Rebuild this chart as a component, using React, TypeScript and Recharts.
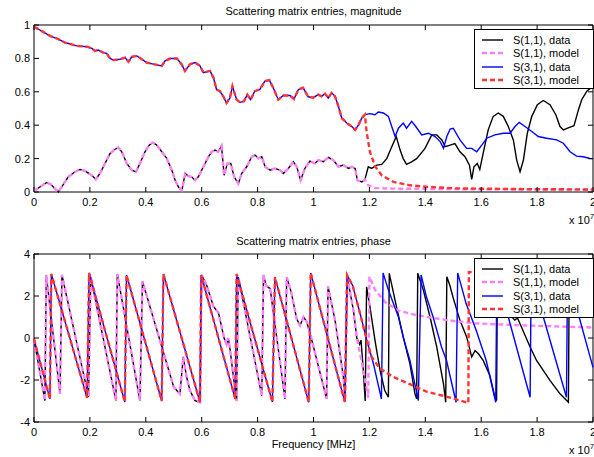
import React from 'react';
import { LineChart, Line, XAxis, YAxis, ReferenceArea, Legend } from 'recharts';

const FONT = '"Liberation Sans", Arial, Helvetica, sans-serif';

// tick values
const freqTicks = [0, 0.2, 0.4, 0.6, 0.8, 1, 1.2, 1.4, 1.6, 1.8, 2];
const magTicks = [0, 0.2, 0.4, 0.6, 0.8, 1];
const phaseTicks = [-4, -2, 0, 2, 4];

// magnitude, S(3,1): data and model coincide up to ~1.18
const magS31Shared = [
  [0, 0.99], [0.021, 0.97], [0.057, 0.935], [0.087, 0.915], [0.111, 0.895], [0.153, 0.875],
  [0.189, 0.87], [0.207, 0.86], [0.218, 0.845], [0.23, 0.85], [0.248, 0.835], [0.26, 0.83],
  [0.272, 0.8], [0.284, 0.79], [0.308, 0.795], [0.326, 0.805], [0.338, 0.78], [0.35, 0.81],
  [0.368, 0.815], [0.386, 0.795], [0.403, 0.775], [0.427, 0.766], [0.457, 0.755], [0.469, 0.785],
  [0.487, 0.799], [0.511, 0.8], [0.528, 0.765], [0.54, 0.725], [0.558, 0.765], [0.576, 0.775],
  [0.594, 0.755], [0.606, 0.715], [0.63, 0.725], [0.642, 0.685], [0.653, 0.614], [0.665, 0.604],
  [0.677, 0.573], [0.689, 0.533], [0.701, 0.563], [0.71, 0.633], [0.725, 0.553], [0.737, 0.537],
  [0.751, 0.543], [0.763, 0.583], [0.775, 0.553], [0.79, 0.604], [0.808, 0.614], [0.826, 0.664],
  [0.842, 0.67], [0.856, 0.624], [0.874, 0.553], [0.892, 0.578], [0.916, 0.578], [0.93, 0.557],
  [0.946, 0.614], [0.963, 0.624], [0.981, 0.57], [0.999, 0.565], [1.017, 0.583], [1.029, 0.573],
  [1.041, 0.589], [1.053, 0.563], [1.065, 0.594], [1.077, 0.573], [1.089, 0.513], [1.101, 0.443],
  [1.119, 0.413], [1.137, 0.392], [1.149, 0.372], [1.161, 0.402], [1.173, 0.443], [1.184, 0.463],
];
const magS31DataTail = [
  [1.202, 0.469], [1.22, 0.463], [1.232, 0.479], [1.25, 0.473], [1.268, 0.453], [1.28, 0.392],
  [1.292, 0.332], [1.304, 0.382], [1.321, 0.413], [1.333, 0.382], [1.351, 0.423], [1.366, 0.392],
  [1.387, 0.342], [1.411, 0.352], [1.435, 0.332], [1.453, 0.302], [1.465, 0.261], [1.477, 0.332],
  [1.489, 0.377], [1.5, 0.382], [1.524, 0.312], [1.548, 0.261], [1.566, 0.261], [1.584, 0.241],
  [1.602, 0.281], [1.62, 0.322], [1.649, 0.342], [1.679, 0.352], [1.703, 0.352], [1.721, 0.392],
  [1.736, 0.417], [1.757, 0.392], [1.781, 0.362], [1.804, 0.332], [1.834, 0.322], [1.87, 0.312],
  [1.894, 0.292], [1.918, 0.241], [1.941, 0.215], [1.965, 0.211], [1.989, 0.201], [2.0, 0.2],
];
const magS31ModelTail = [
  [1.19, 0.36], [1.202, 0.24], [1.22, 0.155], [1.244, 0.1], [1.286, 0.06], [1.345, 0.04],
  [1.416, 0.03], [1.506, 0.022], [1.7, 0.018], [2.0, 0.015],
];

// magnitude, S(1,1)
const magS11Shared = [
  [0, 0.006], [0.021, 0.03], [0.045, 0.056], [0.06, 0.046], [0.075, 0.02], [0.087, 0.0],
  [0.105, 0.046], [0.123, 0.091], [0.147, 0.121], [0.165, 0.135], [0.182, 0.127], [0.206, 0.101],
  [0.221, 0.075], [0.236, 0.111], [0.254, 0.171], [0.272, 0.231], [0.29, 0.256], [0.302, 0.266],
  [0.314, 0.241], [0.332, 0.171], [0.35, 0.131], [0.365, 0.121], [0.379, 0.171], [0.397, 0.241],
  [0.413, 0.282], [0.425, 0.296], [0.439, 0.282], [0.457, 0.241], [0.475, 0.201], [0.493, 0.131],
  [0.505, 0.07], [0.517, 0.03], [0.529, 0.01], [0.541, 0.111], [0.552, 0.095], [0.564, 0.091],
  [0.576, 0.07], [0.588, 0.091], [0.606, 0.151], [0.624, 0.211], [0.636, 0.241], [0.648, 0.251],
  [0.659, 0.241], [0.671, 0.276], [0.68, 0.1], [0.692, 0.171], [0.704, 0.171], [0.716, 0.091],
  [0.731, 0.05], [0.743, 0.111], [0.761, 0.151], [0.779, 0.211], [0.791, 0.221], [0.803, 0.201],
  [0.815, 0.211], [0.827, 0.151], [0.845, 0.131], [0.862, 0.141], [0.88, 0.131], [0.892, 0.111],
  [0.91, 0.141], [0.928, 0.181], [0.94, 0.151], [0.954, 0.07], [0.969, 0.141], [0.987, 0.185],
  [1.005, 0.171], [1.017, 0.191], [1.035, 0.181], [1.053, 0.207], [1.071, 0.191], [1.089, 0.151],
  [1.107, 0.161], [1.125, 0.141], [1.137, 0.151], [1.149, 0.141], [1.157, 0.07], [1.173, 0.06],
  [1.184, 0.075],
];
const magS11DataTail = [
  [1.196, 0.151], [1.208, 0.141], [1.226, 0.161], [1.244, 0.165], [1.262, 0.2], [1.28, 0.271],
  [1.296, 0.332], [1.31, 0.251], [1.321, 0.2], [1.333, 0.166], [1.351, 0.181], [1.369, 0.2],
  [1.399, 0.261], [1.423, 0.342], [1.441, 0.342], [1.459, 0.312], [1.471, 0.271], [1.489, 0.281],
  [1.506, 0.29], [1.524, 0.241], [1.542, 0.211], [1.558, 0.161], [1.566, 0.075], [1.574, 0.151],
  [1.586, 0.171], [1.595, 0.135], [1.607, 0.231], [1.625, 0.372], [1.643, 0.453], [1.661, 0.473],
  [1.679, 0.453], [1.697, 0.392], [1.715, 0.312], [1.727, 0.191], [1.739, 0.121], [1.751, 0.191],
  [1.765, 0.352], [1.781, 0.453], [1.801, 0.523], [1.822, 0.548], [1.846, 0.523], [1.867, 0.463],
  [1.882, 0.392], [1.894, 0.372], [1.918, 0.388], [1.932, 0.397], [1.948, 0.493], [1.96, 0.554],
  [1.978, 0.604], [2.0, 0.634],
];
const magS11ModelTail = [
  [1.196, 0.04], [1.22, 0.024], [1.286, 0.02], [1.6, 0.016], [2.0, 0.014],
];

// phase, S(3,1)
const phS31Shared = [
  [0, -0.05], [0.057, -2.9], [0.062, 3.05], [0.19, -2.85], [0.197, 3.1], [0.325, -3.05],
  [0.331, 3.0], [0.457, -3.0], [0.463, 3.05], [0.594, -3.06], [0.598, 3.0], [0.72, -2.9],
  [0.725, 3.05], [0.853, -3.05], [0.862, 2.9], [0.983, -3.06], [0.99, 3.1], [1.112, -3.05],
  [1.12, 3.0], [1.14, 2.5], [1.166, 1.2], [1.19, -0.07],
];
const phS31DataTail = [
  [1.214, -1.2], [1.243, -2.9], [1.249, 3.1], [1.268, 2.28], [1.286, 1.64], [1.304, 1.0],
  [1.321, 0.05], [1.345, -1.07], [1.375, -2.98], [1.385, 3.0], [1.404, 1.96], [1.428, 1.0],
  [1.458, -0.43], [1.476, -1.07], [1.51, -3.06], [1.516, 3.1], [1.546, 1.64], [1.582, 0.37],
  [1.618, -1.07], [1.652, -3.06], [1.656, 3.0], [1.775, -2.82], [1.779, 3.0], [1.905, -2.82],
  [1.909, 3.0], [2.0, -1.4],
];
const phS31ModelTail = [
  [1.208, -0.9], [1.237, -1.45], [1.285, -1.85], [1.345, -2.2], [1.404, -2.55], [1.464, -2.75],
  [1.506, -2.9], [1.554, -3.1], [1.556, 3.14], [1.6, 3.12], [1.8, 3.05], [2.0, 2.95],
];

// phase, S(1,1)
const phS11Shared = [
  [0, -0.05], [0.039, -2.98], [0.044, 3.0], [0.093, -2.66], [0.1, 3.0], [0.195, -2.8],
  [0.203, 2.9], [0.293, -2.98], [0.298, 3.05], [0.379, -2.98], [0.388, 2.7], [0.5, -2.34],
  [0.511, -2.5], [0.522, -2.66], [0.534, -0.9], [0.546, -1.86], [0.558, -2.5], [0.576, -2.98],
  [0.594, -3.06], [0.6, 3.0], [0.618, 2.5], [0.642, 1.5], [0.66, 1.2], [0.68, 0.0],
  [0.689, -0.3], [0.695, 0.0], [0.702, -0.6], [0.713, -1.8], [0.725, -3.0], [0.731, 2.9],
  [0.815, -2.74], [0.821, 3.0], [0.83, 2.5], [0.845, 2.35], [0.898, -2.9], [0.904, 2.9],
  [0.92, 2.2], [0.94, 0.9], [0.952, 0.6], [0.964, 1.0], [0.975, 0.8], [0.99, 0.1],
  [1.047, -2.9], [1.052, 2.45], [1.077, 0.85], [1.107, -1.87], [1.113, -2.98], [1.121, 2.9],
  [1.143, 1.3], [1.155, 0.0],
];
const phS11DataTail = [
  [1.165, -0.3], [1.17, -0.1], [1.178, -1.5], [1.185, -3.0], [1.19, 2.44], [1.202, 1.48],
  [1.22, -0.11], [1.238, -1.54], [1.255, -2.5], [1.268, -2.82], [1.271, 3.08], [1.297, 1.48],
  [1.321, 0.05], [1.345, -1.23], [1.363, -2.66], [1.369, -2.9], [1.373, 3.08], [1.393, 2.28],
  [1.417, 1.0], [1.441, -0.43], [1.465, -2.18], [1.473, -3.06], [1.477, 2.92], [1.488, 2.5],
  [1.5, 1.9], [1.524, 0.84], [1.548, 0.05], [1.566, -0.9], [1.578, -0.6], [1.59, -0.75],
  [1.607, -1.07], [1.631, -1.78], [1.649, -2.82], [1.655, -2.98], [1.658, 3.0], [1.71, 1.0],
  [1.72, 0.85], [1.73, 0.95], [1.775, -0.43], [1.798, -1.07], [1.846, -2.02], [1.882, -2.66],
  [1.912, -3.06], [1.915, 3.0], [2.0, 1.4],
];
const phS11ModelTail = [
  [1.175, -1.3], [1.196, -2.85], [1.2, 2.92], [1.22, 2.3], [1.257, 1.7], [1.304, 1.3],
  [1.364, 1.1], [1.435, 0.94], [1.507, 0.8], [1.578, 0.7], [1.745, 0.6], [2.0, 0.5],
];

const legendItems = [
  { name: 'S(1,1), data', color: '#000000', dashed: false },
  { name: 'S(1,1), model', color: '#ff80ff', dashed: true },
  { name: 'S(3,1), data', color: '#0000ff', dashed: false },
  { name: 'S(3,1), model', color: '#ff3333', dashed: true },
];

const pts = (rows: number[][]) => rows.map(([f, v]) => ({ f, v }));

const makeSeries = (s11: number[][][], s31: number[][][]) => [
  { ...legendItems[0], data: pts([...s11[0], ...s11[1]]) },
  { ...legendItems[1], data: pts([...s11[0], ...s11[2]]) },
  { ...legendItems[2], data: pts([...s31[0], ...s31[1]]) },
  { ...legendItems[3], data: pts([...s31[0], ...s31[2]]) },
];

const magSeries = makeSeries(
  [magS11Shared, magS11DataTail, magS11ModelTail],
  [magS31Shared, magS31DataTail, magS31ModelTail]
);
const phaseSeries = makeSeries(
  [phS11Shared, phS11DataTail, phS11ModelTail],
  [phS31Shared, phS31DataTail, phS31ModelTail]
);

const CHART_W = 620;
const PLOT_L = 34;
const PLOT_R = 593;
const DATA_W = 1.4;
const MODEL_W = 2.4;

const LegendBox = () => (
  <div
    style={{
      width: 120,
      height: 60,
      boxSizing: 'border-box',
      border: '1px solid #000',
      background: '#fff',
      paddingTop: 3,
      fontFamily: FONT,
      fontSize: 11,
      color: '#000',
    }}
  >
    {legendItems.map((it) => (
      <div key={it.name} style={{ height: 13.5, display: 'flex', alignItems: 'center' }}>
        <svg width={38} height={10} style={{ flex: 'none' }}>
          <line
            x1={7}
            x2={28}
            y1={5}
            y2={5}
            stroke={it.color}
            strokeWidth={it.dashed ? MODEL_W : DATA_W}
            strokeDasharray={it.dashed ? '5 3' : undefined}
          />
        </svg>
        <span style={{ whiteSpace: 'nowrap' }}>{it.name}</span>
      </div>
    ))}
  </div>
);

const Panel = ({
  height,
  plotTop,
  plotBottom,
  yDomain,
  yTicks,
  series,
  legendTop,
}: {
  height: number;
  plotTop: number;
  plotBottom: number;
  yDomain: [number, number];
  yTicks: number[];
  series: any[];
  legendTop: number;
}) => {
  const xTick = (p: any) => (
    <g>
      <line x1={p.x} x2={p.x} y1={plotBottom} y2={plotBottom - 5} stroke="#000" />
      <line x1={p.x} x2={p.x} y1={plotTop} y2={plotTop + 5} stroke="#000" />
      <text x={p.x} y={plotBottom + 14} textAnchor="middle" fontSize={11} fontFamily={FONT} fill="#000">
        {String(p.payload.value)}
      </text>
    </g>
  );
  const yTick = (p: any) => (
    <g>
      <line x1={PLOT_L} x2={PLOT_L + 5} y1={p.y} y2={p.y} stroke="#000" />
      <line x1={PLOT_R} x2={PLOT_R - 5} y1={p.y} y2={p.y} stroke="#000" />
      <text x={PLOT_L - 4} y={p.y + 4} textAnchor="end" fontSize={11} fontFamily={FONT} fill="#000">
        {String(p.payload.value)}
      </text>
    </g>
  );
  return (
    <LineChart
      width={CHART_W}
      height={height}
      margin={{ top: plotTop, right: CHART_W - PLOT_R, bottom: height - plotBottom - 20, left: PLOT_L - 30 }}
    >
      <XAxis
        type="number"
        dataKey="f"
        domain={[0, 2]}
        ticks={freqTicks}
        interval={0}
        height={20}
        tickLine={false}
        axisLine={false}
        tick={xTick}
      />
      <YAxis
        type="number"
        domain={yDomain}
        ticks={yTicks}
        interval={0}
        width={30}
        tickLine={false}
        axisLine={false}
        tick={yTick}
      />
      <ReferenceArea
        x1={0}
        x2={2}
        y1={yDomain[0]}
        y2={yDomain[1]}
        fill="none"
        stroke="#000"
        strokeWidth={1}
      />
      {series.map((s) => (
        <Line
          key={s.name}
          name={s.name}
          data={s.data}
          dataKey="v"
          type="linear"
          stroke={s.color}
          strokeWidth={s.dashed ? MODEL_W : DATA_W}
          strokeDasharray={s.dashed ? '5 3' : undefined}
          dot={false}
          activeDot={false}
          isAnimationActive={false}
        />
      ))}
      <Legend
        layout="vertical"
        align="center"
        verticalAlign="middle"
        wrapperStyle={{ left: 474, top: legendTop, width: 120, height: 60 }}
        content={() => <LegendBox />}
      />
    </LineChart>
  );
};

export default function App() {
  const txt = { fontFamily: FONT, fontSize: 11, fill: '#000' };
  return (
    <div
      style={{
        position: 'absolute',
        left: 0,
        top: 0,
        width: 594,
        height: 457,
        overflow: 'hidden',
        background: '#fff',
      }}
    >
      <div style={{ position: 'absolute', left: 0, top: 0 }}>
        <Panel
          height={230}
          plotTop={25}
          plotBottom={192}
          yDomain={[0, 1]}
          yTicks={magTicks}
          series={magSeries}
          legendTop={29}
        />
      </div>
      <div style={{ position: 'absolute', left: 0, top: 230 }}>
        <Panel
          height={227}
          plotTop={24}
          plotBottom={192}
          yDomain={[-4, 4]}
          yTicks={phaseTicks}
          series={phaseSeries}
          legendTop={28}
        />
      </div>
      <svg
        width={594}
        height={457}
        style={{ position: 'absolute', left: 0, top: 0, pointerEvents: 'none' }}
      >
        <text x={313.5} y={15} textAnchor="middle" {...txt}>
          Scattering matrix entries, magnitude
        </text>
        <text x={569} y={224} {...txt}>
          x 10<tspan dy={-5} fontSize={8}>7</tspan>
        </text>
        <text x={313.5} y={245} textAnchor="middle" {...txt}>
          Scattering matrix entries, phase
        </text>
        <text x={313.5} y={448} textAnchor="middle" {...txt}>
          Frequency [MHz]
        </text>
        <text x={569} y={454} {...txt}>
          x 10<tspan dy={-5} fontSize={8}>7</tspan>
        </text>
      </svg>
    </div>
  );
}
